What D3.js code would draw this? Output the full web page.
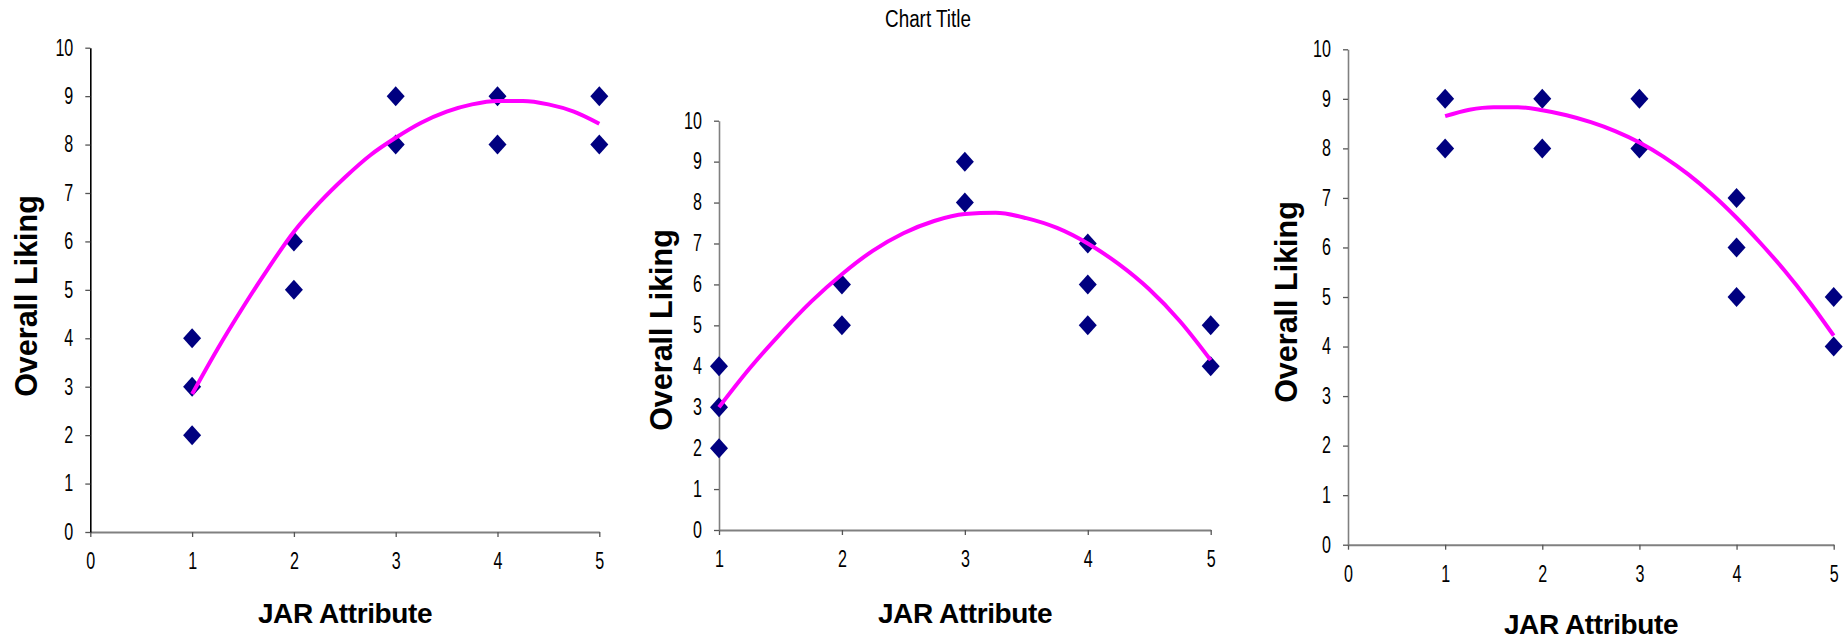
<!DOCTYPE html>
<html><head><meta charset="utf-8">
<script src="https://cdn.jsdelivr.net/npm/d3@7"></script>
<style>
body{margin:0;background:#fff;}
svg{display:block;font-family:"Liberation Sans",Arial,sans-serif;}
.tick text{transform-box:fill-box;transform-origin:center;transform:scaleX(0.7);}
.yax .tick text{transform-origin:right center;}
</style></head><body>
<svg id="c" width="1843" height="642"></svg>
<script>
// ---- data ----
const chartTitle = "Chart Title";
const xTitle = "JAR Attribute";
const yTitle = "Overall Liking";

const chart1X = [1,1,1,2,2,3,3,4,4,5,5];
const chart1Y = [2,3,4,5,6,8,9,8,9,8,9];
const chart2X = [1,1,1,2,2,3,3,4,4,4,5,5];
const chart2Y = [2,3,4,5,6,8,9,5,6,7,4,5];
const chart3X = [1,1,2,2,3,3,4,4,4,5,5];
const chart3Y = [8,9,8,9,8,9,5,6,7,4,5];

const trendX  = [1,1.25,1.5,1.75,2,2.25,2.5,2.75,3,3.25,3.5,3.75,4,4.25,4.5,4.75,5];
const trend1Y = [2.85,3.78,4.64,5.45,6.2,6.8,7.32,7.78,8.14,8.45,8.68,8.83,8.9,8.9,8.83,8.68,8.43];
const trend2Y = [3.0,3.95,4.8,5.58,6.25,6.82,7.25,7.55,7.72,7.75,7.62,7.38,7.0,6.5,5.88,5.1,4.15];
const trend3Y = [8.65,8.78,8.83,8.83,8.77,8.67,8.53,8.35,8.12,7.83,7.48,7.07,6.6,6.08,5.52,4.9,4.22];

const xTicks1 = [0,1,2,3,4,5];
const xTicks2 = [1,2,3,4,5];
const xTicks3 = [0,1,2,3,4,5];
const yTicks  = [0,1,2,3,4,5,6,7,8,9,10];

// ---- layout ----
const panels = [
  {px:chart1X, py:chart1Y, ty:trend1Y, xt:xTicks1, xd:[0,5], xr:[90.3,599.3], yr:[532,47.7],
   yAxisColor:"#000", xtx:345, xty:623, ytx:26, yty:296},
  {px:chart2X, py:chart2Y, ty:trend2Y, xt:xTicks2, xd:[1,5], xr:[719,1210.7], yr:[530,120.7],
   yAxisColor:"#808080", xtx:965, xty:623, ytx:661, yty:330},
  {px:chart3X, py:chart3Y, ty:trend3Y, xt:xTicks3, xd:[0,5], xr:[1348,1833.7], yr:[544.7,49.3],
   yAxisColor:"#808080", xtx:1591, xty:634, ytx:1286, yty:302}
];

const svg = d3.select("#c");

svg.append("text").attr("x",928).attr("y",19).attr("dy","0.35em")
  .attr("text-anchor","middle").attr("font-size",23).attr("fill","#000")
  .style("transform-box","fill-box").style("transform-origin","center").style("transform","scaleX(0.82)")
  .text(chartTitle);

panels.forEach(p => {
  const x = d3.scaleLinear().domain(p.xd).range(p.xr);
  const y = d3.scaleLinear().domain([0,10]).range(p.yr);
  const g = svg.append("g");

  const xa = g.append("g").attr("class","xax").attr("transform",`translate(0,${p.yr[0]})`)
    .call(d3.axisBottom(x).tickValues(p.xt).tickSize(5).tickSizeOuter(0).tickPadding(16).tickFormat(d3.format("d")));
  xa.select(".domain").attr("stroke","#808080").attr("stroke-width",2);
  xa.selectAll(".tick line").attr("stroke","#555").attr("stroke-width",1.3);
  xa.selectAll(".tick text").attr("font-size",23).attr("fill","#000");

  const ya = g.append("g").attr("class","yax").attr("transform",`translate(${p.xr[0]},0)`)
    .call(d3.axisLeft(y).tickValues(yTicks).tickSize(5).tickSizeOuter(0).tickPadding(12).tickFormat(d3.format("d")));
  ya.select(".domain").attr("stroke",p.yAxisColor).attr("stroke-width",1.6);
  ya.selectAll(".tick line").attr("stroke","#555").attr("stroke-width",1.3);
  ya.selectAll(".tick text").attr("font-size",23).attr("fill","#000");

  const pts = p.px.map((v,i)=>[v,p.py[i]]);
  g.selectAll("path.pt").data(pts).enter().append("path").attr("class","pt")
    .attr("d","M0,-10L9,0L0,10L-9,0Z")
    .attr("transform",d=>`translate(${x(d[0])},${y(d[1])})`)
    .attr("fill","#000080");

  const tr = trendX.map((v,i)=>[v,p.ty[i]]);
  g.append("path").datum(tr)
    .attr("d", d3.line().x(d=>x(d[0])).y(d=>y(d[1])).curve(d3.curveMonotoneX))
    .attr("fill","none").attr("stroke","#FF00FF").attr("stroke-width",4).attr("stroke-linejoin","round");

  g.append("text").attr("x",p.xtx).attr("y",p.xty).attr("text-anchor","middle")
    .attr("font-size",28).attr("font-weight","bold").attr("letter-spacing",-0.4).attr("fill","#000")
    .text(xTitle);

  g.append("text").attr("transform",`translate(${p.ytx},${p.yty}) rotate(-90)`)
    .attr("dy","0.35em").attr("text-anchor","middle")
    .attr("font-size",30.5).attr("font-weight","bold").attr("fill","#000")
    .text(yTitle);
});
</script>
</body></html>
